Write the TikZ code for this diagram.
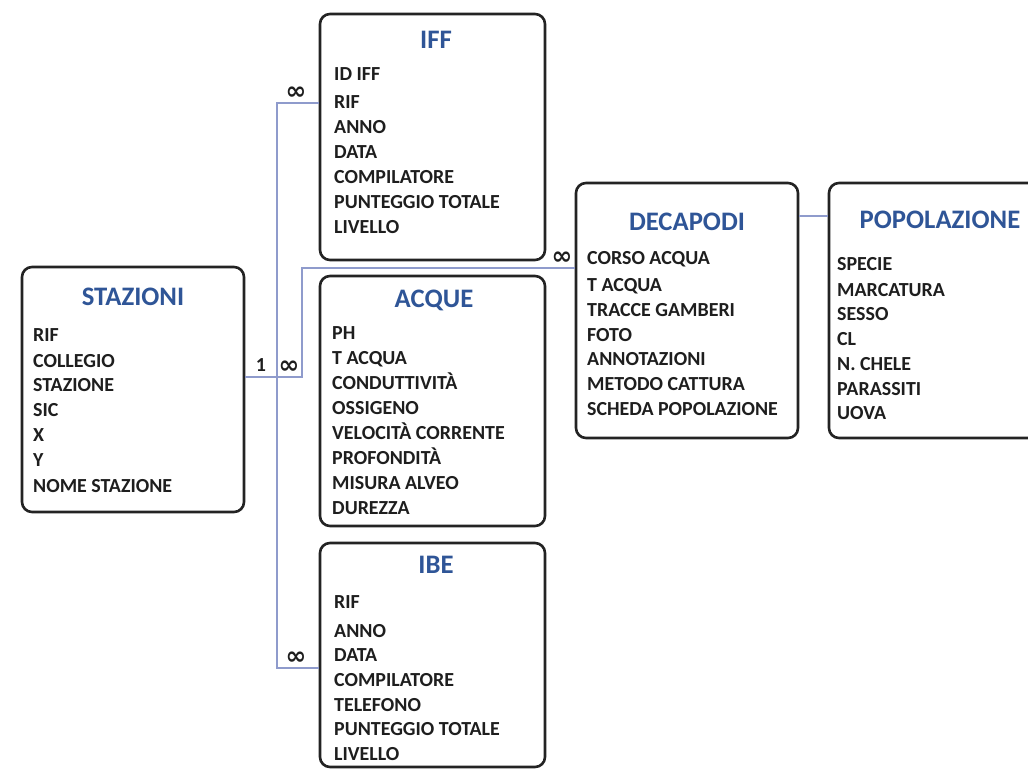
\documentclass[tikz,border=0pt]{standalone}
\usepackage{fontspec}
\setmainfont{Carlito}
\newfontfamily\symfont{DejaVu Sans}
\definecolor{linec}{RGB}{143,155,204}
\definecolor{titlec}{RGB}{47,85,151}
\definecolor{borderc}{RGB}{35,35,35}
\definecolor{textc}{RGB}{30,30,30}
\tikzset{
  entity/.style={draw=borderc, line width=2.6bp, rounded corners=10bp, fill=white, inner sep=0pt},
  etitle/.style={font=\fontsize{26.8}{26.8}\selectfont\bfseries, text=titlec, inner sep=0pt},
  item/.style={font=\fontsize{20}{20}\selectfont\bfseries, text=textc, inner sep=0pt, anchor=base west},
  rel/.style={draw=linec, line width=1.4bp},
  card/.style={font=\fontsize{20}{20}\selectfont\bfseries, text=textc, inner sep=0pt},
  many/.style={font=\symfont\fontsize{25}{25}\selectfont\bfseries, text=textc, inner sep=0pt}
}
\begin{document}
\begin{tikzpicture}[x=1bp,y=-1bp]
\useasboundingbox (0,0) rectangle (1028,769);
\clip (0,0) rectangle (1028,769);
\fill[white] (0,0) rectangle (1028,769);

% boxes
\node[entity, minimum width=222bp, minimum height=245bp] (stazioni) at (133,389.5) {};
\node[entity, minimum width=225bp, minimum height=246bp] (iff) at (432.5,137) {};
\node[entity, minimum width=225bp, minimum height=250bp] (acque) at (432.5,401) {};
\node[entity, minimum width=225bp, minimum height=224bp] (ibe) at (432.5,655) {};
\node[entity, minimum width=222bp, minimum height=255bp] (decapodi) at (687,310.5) {};
\node[entity, minimum width=216bp, minimum height=255bp] (popolazione) at (937,310.5) {};

% connectors
\coordinate (j) at (277,377);
\coordinate (k) at (302,268);
\coordinate (t) at (277,103);
\coordinate (b) at (277,668);
\coordinate (p) at (800,216);
\draw[rel] (stazioni.east |- j) -| (k) -- (decapodi.west |- k);
\draw[rel] (iff.west |- t) -- (t) -- (b) -- (ibe.west |- b);
\draw[rel] (decapodi.east |- p) -- (popolazione.west |- p);

% cardinalities
\node[card] (c1) at (261,365) {1};
\node[many] (m1) at (289,367) {∞};
\node[many] (m2) at (296,93) {∞};
\node[many] (m3) at (296,658) {∞};
\node[many] (m4) at (562,258) {∞};

% titles
\node[etitle] (tstazioni) at (133,297) {STAZIONI};
\node[etitle] (tiff) at (436,40) {IFF};
\node[etitle] (tacque) at (434,300) {ACQUE};
\node[etitle] (tibe) at (436,565) {IBE};
\node[etitle] (tdecapodi) at (687,222) {DECAPODI};
\node[etitle] (tpopolazione) at (940,220) {POPOLAZIONE};

% items
\foreach \t/\y [count=\i] in {RIF/335,COLLEGIO/361,STAZIONE/385,SIC/410,X/435,Y/460,NOME STAZIONE/486}
  \node[item] (s\i) at (33,\y+6.5) {\t};
\foreach \t/\y [count=\i] in {ID IFF/74,RIF/102,ANNO/127,DATA/152,COMPILATORE/177,PUNTEGGIO TOTALE/202,LIVELLO/227}
  \node[item] (f\i) at (334,\y+6.5) {\t};
\foreach \t/\y [count=\i] in {PH/333,T ACQUA/358,CONDUTTIVITÀ/383,OSSIGENO/408,VELOCITÀ CORRENTE/433,PROFONDITÀ/458,MISURA ALVEO/483,DUREZZA/508}
  \node[item] (a\i) at (332,\y+6.5) {\t};
\foreach \t/\y [count=\i] in {RIF/602,ANNO/631,DATA/655,COMPILATORE/680,TELEFONO/705,PUNTEGGIO TOTALE/729,LIVELLO/754}
  \node[item] (b\i) at (334,\y+6.5) {\t};
\foreach \t/\y [count=\i] in {CORSO ACQUA/258,T ACQUA/285,TRACCE GAMBERI/310,FOTO/335,ANNOTAZIONI/359,METODO CATTURA/384,SCHEDA POPOLAZIONE/409}
  \node[item] (d\i) at (587,\y+6.5) {\t};
\foreach \t/\y [count=\i] in {SPECIE/264,MARCATURA/290,SESSO/314,CL/339,N. CHELE/364,PARASSITI/389,UOVA/413}
  \node[item] (p\i) at (837,\y+6.5) {\t};
\end{tikzpicture}
\end{document}
